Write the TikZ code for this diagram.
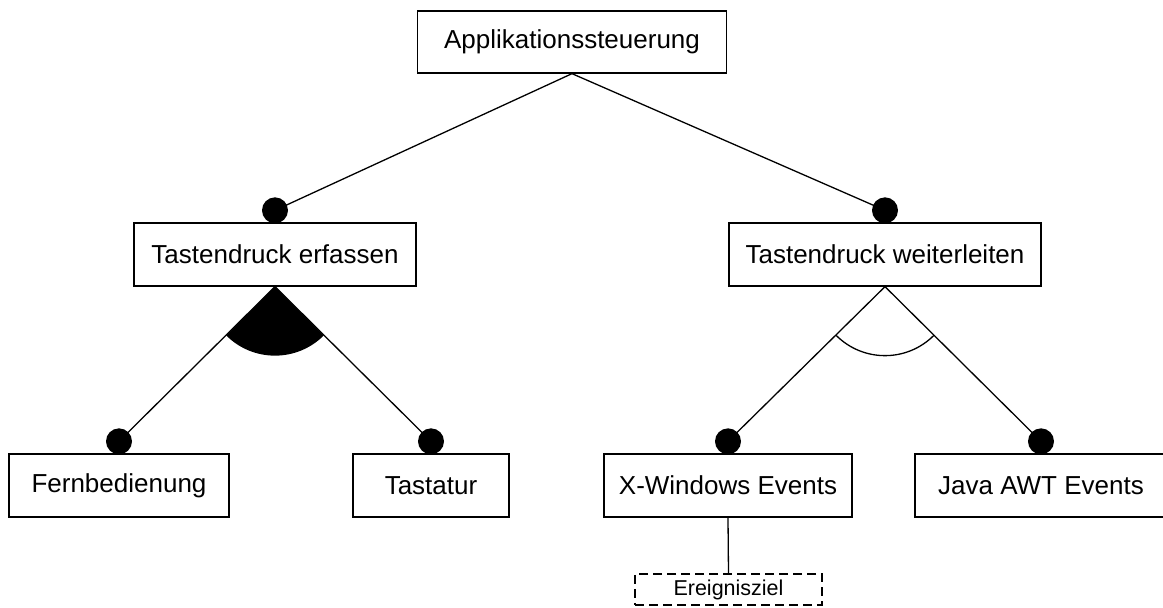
\documentclass[tikz,border=0pt]{standalone}
\usepackage{fontspec}
\setmainfont{Liberation Sans}
\begin{document}
\begin{tikzpicture}[x=1pt,y=1pt,line width=1.3pt,
  feat/.style={draw,rectangle,minimum height=63pt,inner sep=0pt,font=\fontsize{26}{31}\selectfont},
  attr/.style={draw,rectangle,dash pattern=on 9pt off 5pt,minimum height=31pt,minimum width=187pt,inner sep=0pt,font=\fontsize{21.5}{26}\selectfont},
  dot/.style={circle,fill=black,inner sep=0pt,minimum size=26pt},
  conn/.style={line width=1.3pt}]
\useasboundingbox (0,0) rectangle (1163,608);
\node[feat,minimum width=309pt,minimum height=62pt] (root) at (572,566) {Applikationssteuerung};
\node[feat,minimum width=282pt] (te) at (275,353.5) {Tastendruck erfassen};
\node[feat,minimum width=312pt] (tw) at (885,353.5) {Tastendruck weiterleiten};
\node[feat,minimum width=220pt] (fern) at (119,122.5) {Fernbedienung};
\node[feat,minimum width=156pt] (tast) at (431,122.5) {Tastatur};
\node[feat,minimum width=248pt] (xw) at (728,122.5) {X-Windows Events};
\node[feat,minimum width=252pt] (java) at (1041,122.5) {Java AWT Events};
\node[attr] (ez) at (728.5,18.5) {Ereignisziel};
\node[dot] (dte) at ([yshift=12pt]te.north) {};
\node[dot] (dtw) at ([yshift=12pt]tw.north) {};
\node[dot] (dfern) at ([yshift=12pt]fern.north) {};
\node[dot] (dtast) at ([yshift=12pt]tast.north) {};
\node[dot] (dxw) at ([yshift=12pt]xw.north) {};
\node[dot] (djava) at ([yshift=12pt]java.north) {};
\draw[conn] (root.south) -- (dte.center);
\draw[conn] (root.south) -- (dtw.center);
\draw[conn] (te.south) -- (dfern.center);
\draw[conn] (te.south) -- (dtast.center);
\draw[conn] (tw.south) -- (dxw.center);
\draw[conn] (tw.south) -- (djava.center);
\draw[conn] (xw.south) -- (ez.north);
\fill (te.south) -- ++(-135:69) arc[start angle=-135,end angle=-45,radius=69pt] -- cycle;
\draw[conn] ([shift={(-135:69)}]tw.south) arc[start angle=-135,end angle=-45,radius=69pt];
\end{tikzpicture}
\end{document}
